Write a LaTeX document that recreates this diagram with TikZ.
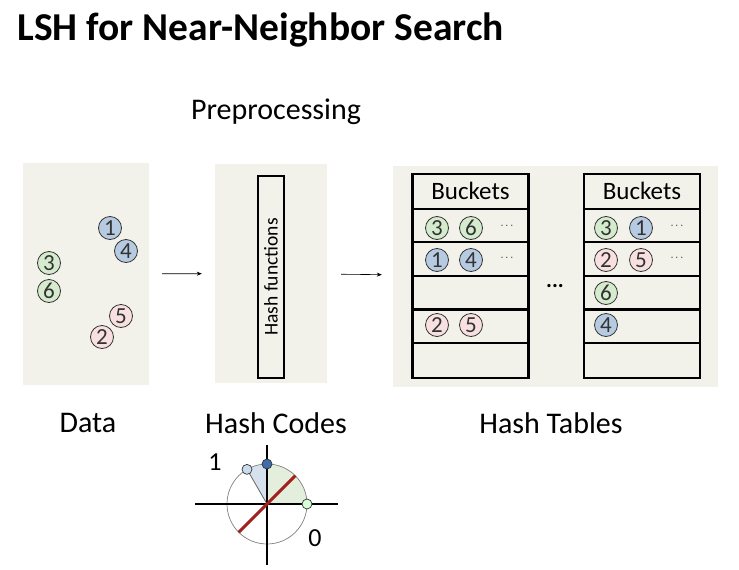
\documentclass[tikz,border=0pt]{standalone}
\usepackage{fontspec}
\setmainfont{Carlito}
\usetikzlibrary{arrows.meta}
\definecolor{panel}{HTML}{F3F2EA}
\definecolor{grn}{HTML}{D5EBCD}
\definecolor{blu}{HTML}{B6CBE2}
\definecolor{pnk}{HTML}{F8E0E0}
\definecolor{redline}{HTML}{A3201E}
\definecolor{dotblue}{HTML}{3F6DAA}
\definecolor{sectgrn}{HTML}{E3EFDC}
\definecolor{sectblu}{HTML}{D6E1EE}

\tikzset{
  pt/.style={circle,draw=black!80,line width=0.8pt,inner sep=0pt,minimum size=23pt,
    font=\fontsize{23}{23}\selectfont,text=black!80},
  panelbox/.style={fill=panel,draw=none,inner sep=0pt},
  tablebox/.style={draw=black,line width=2.6pt,inner sep=0pt,minimum width=116pt,minimum height=204pt},
  lbl/.style={font=\fontsize{30}{34}\selectfont},
  more/.style={font=\fontsize{11}{11}\selectfont}
}

\begin{document}
\begin{tikzpicture}[x=1pt,y=-1pt]
  \useasboundingbox[fill=white] (0,0) rectangle (739,570);
  \node[anchor=west,font=\bfseries\fontsize{39.5}{44}\selectfont] (title) at (14,30) {LSH for Near-Neighbor Search};
  \node[lbl] (pre) at (276,112) {Preprocessing};

  % panels
  \node[panelbox,minimum width=126pt,minimum height=222pt] (data) at (86,274) {};
  \node[panelbox,minimum width=112pt,minimum height=219pt] (hash) at (271,273.5) {};
  \node[panelbox,minimum width=325pt,minimum height=221pt] (tables) at (555.5,276.5) {};

  \draw[-{Stealth[length=5pt,width=4pt]},line width=0.6pt,shorten <=13pt,shorten >=13pt] (data) -- (hash);
  \draw[-{Stealth[length=5pt,width=4pt]},line width=0.6pt,shorten <=14pt,shorten >=11pt] (hash) -- (tables);

  % data points
  \node[pt,fill=blu] (d1) at (110,228) {1};
  \node[pt,fill=blu] (d4) at (126,251) {4};
  \node[pt,fill=grn] (d3) at (49,263) {3};
  \node[pt,fill=grn] (d6) at (49,291) {6};
  \node[pt,fill=pnk] (d5) at (121,316) {5};
  \node[pt,fill=pnk] (d2) at (102,337) {2};

  % hash functions
  \node[draw,line width=1.8pt,fill=panel,minimum width=26pt,minimum height=202pt,inner sep=0pt] (hf) at (271,277) {};
  \node[rotate=90,font=\fontsize{19.5}{20}\selectfont] (hft) at (hf) {Hash functions};

  % hash tables
  \foreach \n/\cx in {L/470.5,R/642}{
    \node[tablebox] (tab\n) at (\cx,276) {};
    \foreach \k in {0,...,4}
      \draw[line width=2.2pt] ([yshift=-36pt-33.6pt*\k]tab\n.north west) -- ([yshift=-36pt-33.6pt*\k]tab\n.north east);
    \node[font=\fontsize{25}{26}\selectfont] (head\n) at ([yshift=-18pt]tab\n.north) {Buckets};
  }
  \node[pt,fill=grn] (a3) at (437,228) {3};
  \node[pt,fill=grn] (a6) at (471,228) {6};
  \node[more] (am1) at (507,226) {$\cdots$};
  \node[pt,fill=blu] (a1) at (437,260) {1};
  \node[pt,fill=blu] (a4) at (471,260) {4};
  \node[more] (am2) at (507,258) {$\cdots$};
  \node[pt,fill=pnk] (a2) at (437,325) {2};
  \node[pt,fill=pnk] (a5) at (471,325) {5};

  \node[pt,fill=grn] (b3) at (606,228) {3};
  \node[pt,fill=blu] (b1) at (641,228) {1};
  \node[more] (bm1) at (677,226) {$\cdots$};
  \node[pt,fill=pnk] (b2) at (606,260) {2};
  \node[pt,fill=pnk] (b5) at (641,260) {5};
  \node[more] (bm2) at (677,258) {$\cdots$};
  \node[pt,fill=grn] (b6) at (606,293) {6};
  \node[pt,fill=blu] (b4) at (606,325) {4};

  \node[font=\bfseries\fontsize{22}{22}\selectfont] (mid) at (555,286) {...};

  \node[lbl] (ldata) at (88,423) {Data};
  \node[lbl] (lcodes) at (276,423) {Hash Codes};
  \node[lbl] (ltables) at (551,423) {Hash Tables};

  % unit circle
  \coordinate (o) at (267,504);
  \fill[sectgrn] (o) -- ++(40,0) arc[start angle=0,end angle=-90,radius=40] -- cycle;
  \fill[sectblu] (o) -- ++(0,-40) arc[start angle=-90,end angle=-120,radius=40] -- cycle;
  \draw[black!50,line width=0.7pt] (o) circle[radius=40];
  \draw[black!60,line width=0.8pt] (o) -- ++(-120:40) coordinate (p1);
  \draw[line width=1.8pt] (195,504) -- (338,504);
  \draw[line width=1.8pt] (267,445) -- (267,565);
  \draw[redline,line width=3pt] (o) -- ++(-45:40) (o) -- ++(135:40);
  \coordinate (p2) at (267,464);
  \coordinate (p0) at (307,504);
  \draw[black!80,fill=blu!70!white,line width=0.7pt] (p1) circle[radius=5];
  \draw[black!80,fill=dotblue,line width=0.7pt] (p2) circle[radius=5];
  \draw[black!80,fill=green!15!white,line width=0.7pt] (p0) circle[radius=5];
  \node[font=\fontsize{26}{26}\selectfont] (one) at (215,462) {1};
  \node[font=\fontsize{26}{26}\selectfont] (zero) at (315,538) {0};
\end{tikzpicture}
\end{document}
